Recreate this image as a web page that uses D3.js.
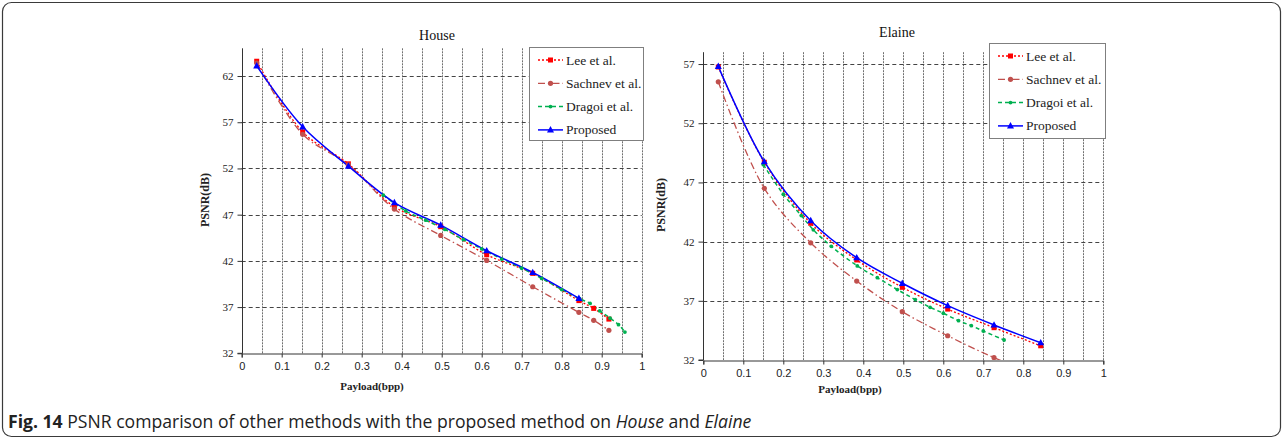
<!DOCTYPE html>
<html><head><meta charset="utf-8">
<script src="https://cdn.jsdelivr.net/npm/d3@7"></script>
<style>body{margin:0;background:#fff}svg{display:block}</style>
</head><body>
<svg id="c" width="1284" height="438"></svg>
<script>
// ---------- data ----------
const seriesNames = ["Lee et al.", "Sachnev et al.", "Dragoi et al.", "Proposed"];
const xTickValues = [0, 0.1, 0.2, 0.3, 0.4, 0.5, 0.6, 0.7, 0.8, 0.9, 1];
const xTickLabels = ["0", "0.1", "0.2", "0.3", "0.4", "0.5", "0.6", "0.7", "0.8", "0.9", "1"];
const houseYTicks = [32, 37, 42, 47, 52, 57, 62];
const elaineYTicks = [32, 37, 42, 47, 52, 57];

// House
const houseLeeX = [0.0375, 0.1525, 0.2667, 0.3817, 0.4975, 0.6125, 0.7275, 0.843, 0.88, 0.918];
const houseLeeY = [63.6, 55.95, 52.5, 47.85, 45.7, 42.66, 40.65, 37.7, 36.86, 35.7];
const houseSachnevX = [0.0375, 0.1525, 0.2667, 0.3817, 0.4975, 0.6125, 0.7275, 0.843, 0.88, 0.918];
const houseSachnevY = [63.4, 55.7, 52.4, 47.6, 44.75, 42.05, 39.2, 36.43, 35.57, 34.49];
const houseDragoiX = [0.354, 0.41, 0.46, 0.508, 0.554, 0.60, 0.65, 0.70, 0.75, 0.80, 0.845, 0.871, 0.895, 0.921, 0.942, 0.958];
const houseDragoiY = [49.1, 47.4, 46.4, 45.4, 44.3, 43.3, 42.2, 41.2, 40.1, 38.9, 37.9, 37.4, 36.6, 35.8, 35.1, 34.3];
const houseProposedX = [0.0375, 0.1525, 0.2667, 0.3817, 0.4975, 0.6125, 0.7275, 0.843];
const houseProposedY = [63.1, 56.5, 52.25, 48.3, 45.87, 43.1, 40.75, 37.94];

// Elaine
const elaineLeeX = [0.0375, 0.1525, 0.2685, 0.3835, 0.4975, 0.611, 0.7268, 0.8435];
const elaineLeeY = [56.75, 48.7, 43.55, 40.45, 38.14, 36.3, 34.73, 33.2];
const elaineSachnevX = [0.0375, 0.1525, 0.2685, 0.3835, 0.4975, 0.611, 0.7268, 0.8435];
const elaineSachnevY = [55.5, 46.5, 41.9, 38.67, 36.08, 34.05, 32.2, 30.6];
const elaineDragoiX = [0.15, 0.20, 0.245, 0.275, 0.32, 0.385, 0.435, 0.485, 0.53, 0.567, 0.60, 0.638, 0.67, 0.70, 0.752];
const elaineDragoiY = [48.5, 46.0, 44.2, 43.0, 41.6, 39.95, 38.95, 37.95, 37.1, 36.45, 35.95, 35.32, 34.9, 34.45, 33.69];
const elaineProposedX = [0.0375, 0.1525, 0.2685, 0.3835, 0.4975, 0.611, 0.7268, 0.8435];
const elaineProposedY = [56.8, 48.75, 43.77, 40.64, 38.48, 36.59, 34.96, 33.46];

// ---------- styles / layout ----------
const styles = [
  {color: "#ff0000", dash: "2,2", marker: "square", w: 1.3},
  {color: "#c0504d", dash: "7,3,1.5,3", marker: "circle", w: 1.3},
  {color: "#00b050", dash: "4,3", marker: "dot", w: 1.5},
  {color: "#0000ff", dash: null, marker: "triangle", w: 1.5}
];
const SERIF = "'Liberation Serif', 'Times New Roman', serif";
const SANS = "'Liberation Sans', Arial, sans-serif";

const svg = d3.select("#c");
svg.append("rect").attr("x", 2.5).attr("y", 2.5).attr("width", 1278).attr("height", 434)
  .attr("rx", 9).attr("fill", "none").attr("stroke", "#3a3a3a").attr("stroke-width", 1.2);

function zip(xs, ys) { return xs.map((x, i) => [x, ys[i]]); }

function panel(cfg) {
  const g = svg.append("g");
  const x = d3.scaleLinear().domain([0, 1]).range([cfg.x0, cfg.x1]);
  const y = d3.scaleLinear().domain(cfg.yDomain).range([cfg.y0, cfg.y1]);
  const id = "clip" + cfg.key;
  svg.append("clipPath").attr("id", id).append("rect")
    .attr("x", cfg.x0).attr("y", cfg.y1).attr("width", cfg.x1 - cfg.x0).attr("height", cfg.y0 - cfg.y1);

  // vertical gridlines
  const vg = d3.range(1, 21).map(i => i * 0.05);
  g.selectAll(".vg").data(vg).join("line")
    .attr("x1", d => Math.round(x(d)) + 0.5).attr("x2", d => Math.round(x(d)) + 0.5)
    .attr("y1", cfg.y1).attr("y2", cfg.y0)
    .attr("stroke", "#6f6f6f").attr("stroke-width", 1).attr("stroke-dasharray", "2,1");
  // horizontal gridlines
  g.selectAll(".hg").data(cfg.yTicks.slice(1)).join("line")
    .attr("x1", cfg.x0).attr("x2", cfg.x1)
    .attr("y1", d => Math.round(y(d)) + 0.5).attr("y2", d => Math.round(y(d)) + 0.5)
    .attr("stroke", "#444").attr("stroke-width", 1).attr("stroke-dasharray", "4,3");

  // axes
  const yAxis = d3.axisLeft(y).tickValues(cfg.yTicks).tickSize(5).tickFormat(d3.format("d"));
  const ya = g.append("g").attr("transform", `translate(${Math.round(cfg.x0) + 0.5},0)`).call(yAxis);
  ya.select(".domain").attr("stroke", "#333").attr("d", `M-5,${y(cfg.yDomain[0])}H0V${cfg.y1}`);
  ya.selectAll(".tick line").attr("stroke", "#333");
  ya.selectAll("text").attr("font-family", SERIF).attr("font-size", 11).attr("fill", "#222").attr("x", -9);
  const xAxis = d3.axisBottom(x).tickValues(xTickValues).tickSize(4).tickFormat((d, i) => xTickLabels[i]);
  const xa = g.append("g").attr("transform", `translate(0,${Math.round(cfg.y0) + 0.5})`).call(xAxis);
  xa.select(".domain").attr("stroke", "#333");
  xa.selectAll(".tick line").attr("stroke", "#333");
  xa.selectAll("text").attr("font-family", SANS).attr("font-size", 11).attr("fill", "#222").attr("dy", "0.9em");

  // series
  const line = d3.line().x(d => x(d[0])).y(d => y(d[1])).curve(d3.curveCatmullRom.alpha(0.5));
  const sg = g.append("g").attr("clip-path", `url(#${id})`);
  cfg.series.forEach((pts, i) => {
    const s = styles[i];
    sg.append("path").attr("d", line(pts)).attr("fill", "none").attr("stroke", s.color)
      .attr("stroke-width", s.w).attr("stroke-dasharray", s.dash);
  });
  cfg.series.forEach((pts, i) => {
    drawMarkers(sg, pts.map(p => [x(p[0]), y(p[1])]), styles[i]);
  });

  // titles
  g.append("text").attr("x", cfg.titleX).attr("y", cfg.titleY).attr("text-anchor", "middle")
    .attr("font-family", SERIF).attr("font-size", 14).attr("fill", "#111").text(cfg.title);
  g.append("text").attr("transform", `translate(${cfg.ylabX},${cfg.ylabY}) rotate(-90)`).attr("text-anchor", "middle")
    .attr("font-family", SERIF).attr("font-size", 12).attr("font-weight", "bold").attr("fill", "#222").text("PSNR(dB)");
  g.append("text").attr("x", cfg.xlabX).attr("y", cfg.xlabY).attr("text-anchor", "middle")
    .attr("font-family", SERIF).attr("font-size", 11).attr("font-weight", "bold").attr("fill", "#222").text("Payload(bpp)");

  // legend
  const lg = g.append("g");
  lg.append("rect").attr("x", cfg.lx + 0.5).attr("y", cfg.ly + 0.5).attr("width", cfg.lw).attr("height", cfg.lh)
    .attr("fill", "#fff").attr("stroke", "#7f7f7f").attr("stroke-width", 1);
  seriesNames.forEach((n, i) => {
    const s = styles[i];
    const yy = cfg.ly + 13 + i * 23.3;
    const xs = cfg.lx + 9;
    lg.append("line").attr("x1", xs).attr("x2", xs + 25).attr("y1", yy).attr("y2", yy)
      .attr("stroke", s.color).attr("stroke-width", s.w).attr("stroke-dasharray", s.dash);
    drawMarkers(lg, [[xs + 12.5, yy]], s);
    lg.append("text").attr("x", xs + 28).attr("y", yy + 4.5)
      .attr("font-family", SERIF).attr("font-size", 13.5).attr("fill", "#222").text(n);
  });
}

function drawMarkers(g, pts, s) {
  pts.forEach(([px, py]) => {
    if (s.marker === "triangle") {
      g.append("path").attr("d", `M${px},${py - 3.8}L${px + 3.5},${py + 2.6}L${px - 3.5},${py + 2.6}Z`).attr("fill", s.color);
    } else if (s.marker === "square") {
      g.append("rect").attr("x", px - 2.5).attr("y", py - 2.5).attr("width", 5).attr("height", 5).attr("fill", s.color);
    } else if (s.marker === "circle") {
      g.append("circle").attr("cx", px).attr("cy", py).attr("r", 2.6).attr("fill", s.color);
    } else {
      g.append("circle").attr("cx", px).attr("cy", py).attr("r", 1.9).attr("fill", s.color);
    }
  });
}

panel({
  key: "house", x0: 241.7, x1: 641.7, y0: 353.3, y1: 48.3, yDomain: [32, 65], yTicks: houseYTicks,
  series: [zip(houseLeeX, houseLeeY), zip(houseSachnevX, houseSachnevY), zip(houseDragoiX, houseDragoiY), zip(houseProposedX, houseProposedY)],
  title: "House", titleX: 437, titleY: 40, ylabX: 209, ylabY: 200, xlabX: 372, xlabY: 390,
  lx: 529, ly: 47, lw: 114, lh: 93
});
panel({
  key: "elaine", x0: 703.3, x1: 1103.3, y0: 360, y1: 52.2, yDomain: [32, 58], yTicks: elaineYTicks,
  series: [zip(elaineLeeX, elaineLeeY), zip(elaineSachnevX, elaineSachnevY), zip(elaineDragoiX, elaineDragoiY), zip(elaineProposedX, elaineProposedY)],
  title: "Elaine", titleX: 897, titleY: 37, ylabX: 665, ylabY: 205, xlabX: 850, xlabY: 393,
  lx: 989, ly: 43, lw: 116, lh: 95
});

// caption
const cap = svg.append("text").attr("x", 8).attr("y", 428)
  .attr("font-family", "'Open Sans', 'Noto Sans', sans-serif").attr("font-size", 17.6).attr("fill", "#222");
cap.append("tspan").attr("font-weight", "bold").text("Fig. 14");
cap.append("tspan").text(" PSNR comparison of other methods with the proposed method on ");
cap.append("tspan").attr("font-style", "italic").text("House");
cap.append("tspan").text(" and ");
cap.append("tspan").attr("font-style", "italic").text("Elaine");
</script>
</body></html>
